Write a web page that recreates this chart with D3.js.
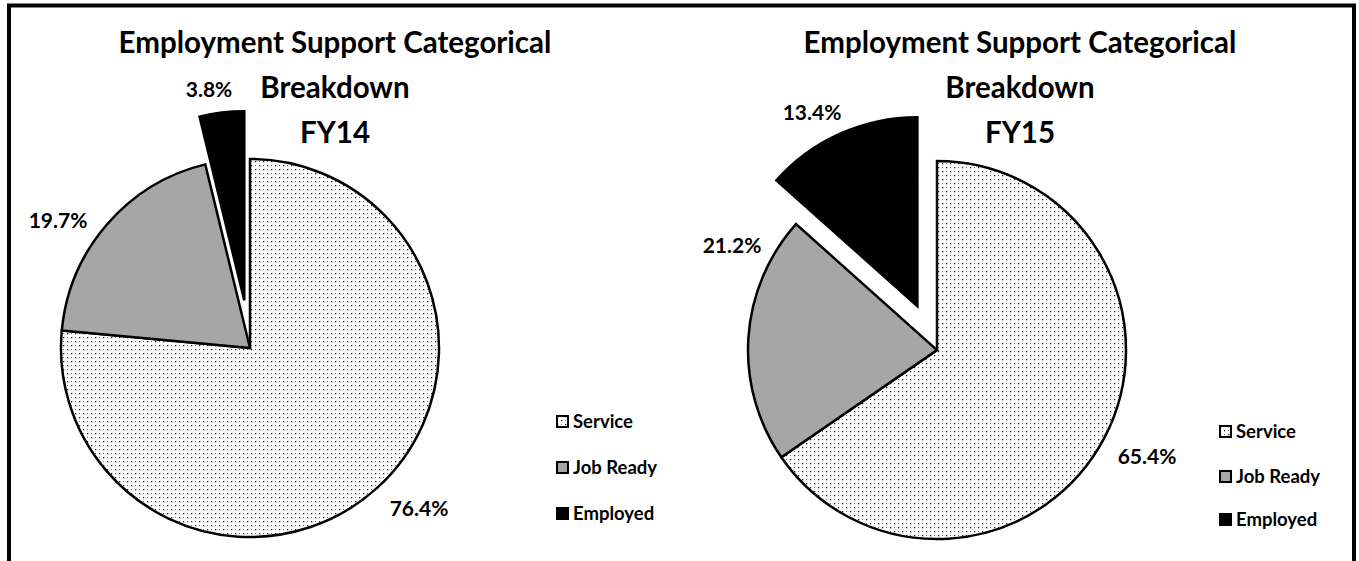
<!DOCTYPE html>
<html>
<head>
<meta charset="utf-8" />
<title>Employment Support Categorical Breakdown</title>
<style>
  body { margin: 0; background: #fff; }
  text { font-family: Lato, "Open Sans", sans-serif; font-weight: bold; fill: #000; }
</style>
</head>
<body>
<script src="https://cdn.jsdelivr.net/npm/d3@7"></script>
<script>
var categories = ["Service", "Job Ready", "Employed"];
var years = ["FY14", "FY15"];
var valuesFY14 = [76.4, 19.7, 3.8];
var valuesFY15 = [65.4, 21.2, 13.4];
var labelsFY14 = ["76.4%", "19.7%", "3.8%"];
var labelsFY15 = ["65.4%", "21.2%", "13.4%"];

var width = 1359, height = 561;

var svg = d3.select("body").append("svg")
    .attr("width", width)
    .attr("height", height);

// dotted fill like the excel pattern
var defs = svg.append("defs");
var pat = defs.append("pattern")
    .attr("id", "dots")
    .attr("patternUnits", "userSpaceOnUse")
    .attr("width", 8).attr("height", 8);
pat.append("rect").attr("width", 8).attr("height", 8).attr("fill", "#fff");
pat.append("rect").attr("x", 1).attr("y", 1).attr("width", 1.3).attr("height", 1.3).attr("fill", "#222");
pat.append("rect").attr("x", 5).attr("y", 5).attr("width", 1.3).attr("height", 1.3).attr("fill", "#222");
pat.append("rect").attr("x", 5).attr("y", 1).attr("width", 1).attr("height", 1).attr("fill", "#777");
pat.append("rect").attr("x", 1).attr("y", 5).attr("width", 1).attr("height", 1).attr("fill", "#777");

var fills = d3.scaleOrdinal()
    .domain(categories)
    .range(["url(#dots)", "#a6a6a6", "#000"]);

svg.append("rect")
    .attr("x", 9).attr("y", 5.5)
    .attr("width", 1345).attr("height", 600)
    .attr("fill", "none")
    .attr("stroke", "#000")
    .attr("stroke-width", 4);

var charts = [
  { year: years[0], values: valuesFY14, labels: labelsFY14, cx: 250, cy: 348, titleX: 335,
    labelPos: [[419, 516], [58, 228], [209, 97]], legendX: 556, legendY: [415, 461, 507] },
  { year: years[1], values: valuesFY15, labels: labelsFY15, cx: 937, cy: 350, titleX: 1020,
    labelPos: [[1147, 464], [732, 253], [812, 120]], legendX: 1219, legendY: [425, 470, 513] }
];

var radius = 189;
var explode = 48;

var pie = d3.pie().sort(null).value(function(d) { return d.value; });
var arc = d3.arc().innerRadius(0).outerRadius(radius);

charts.forEach(function(c) {
  var data = categories.map(function(k, i) { return { key: k, value: c.values[i], label: c.labels[i] }; });
  var arcs = pie(data);
  var g = svg.append("g").attr("transform", "translate(" + c.cx + "," + c.cy + ")");

  g.selectAll("path")
    .data(arcs)
    .enter().append("path")
    .attr("d", arc)
    .attr("fill", function(d) { return fills(d.data.key); })
    .attr("stroke", "#000")
    .attr("stroke-width", 2.5)
    .attr("transform", function(d) {
      if (d.data.key !== "Employed") return null;
      var mid = (d.startAngle + d.endAngle) / 2;
      return "translate(" + (explode * Math.sin(mid)) + "," + (-explode * Math.cos(mid)) + ")";
    });

  svg.selectAll(null)
    .data(arcs)
    .enter().append("text")
    .attr("x", function(d, i) { return c.labelPos[i][0]; })
    .attr("y", function(d, i) { return c.labelPos[i][1]; })
    .attr("text-anchor", "middle")
    .style("font-size", "21px")
    .text(function(d) { return d.data.label; });

  var title = svg.append("text")
    .attr("text-anchor", "middle")
    .style("font-size", "29.5px");
  ["Employment Support Categorical", "Breakdown", c.year].forEach(function(t, i) {
    title.append("tspan")
      .attr("x", c.titleX)
      .attr("y", 53 + i * 45)
      .text(t);
  });

  var leg = svg.append("g")
    .selectAll("g")
    .data(categories)
    .enter().append("g")
    .attr("transform", function(d, i) { return "translate(" + c.legendX + "," + c.legendY[i] + ")"; });
  leg.append("rect")
    .attr("x", 1).attr("y", 1)
    .attr("width", 11).attr("height", 11)
    .attr("fill", function(d) { return fills(d); })
    .attr("stroke", "#000")
    .attr("stroke-width", 2);
  leg.append("text")
    .attr("x", 17)
    .attr("y", 12.5)
    .style("font-size", "18.5px")
    .text(function(d) { return d; });
});
</script>
</body>
</html>
